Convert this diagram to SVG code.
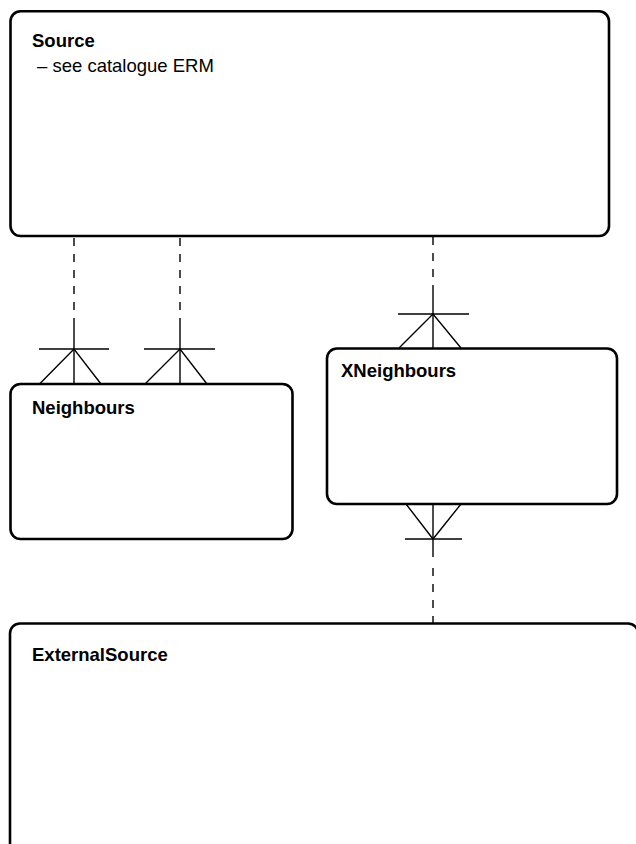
<svg xmlns="http://www.w3.org/2000/svg" width="636" height="844" viewBox="0 0 636 844">
<style>
.box{fill:#fff;stroke:#000;stroke-width:2.6}
.t{font-family:"Liberation Sans",Arial,sans-serif;font-size:18.5px;fill:#000}
.b{font-weight:bold}
.ln{stroke:#000;stroke-width:1.4;fill:none}
.dash{stroke-dasharray:8 8}
</style>
<rect width="636" height="844" fill="#fff"/>
<g id="connectors">
  <!-- Source - Neighbours 1 -->
  <line class="ln dash" x1="74" y1="238" x2="74" y2="320"/>
  <line class="ln" x1="74" y1="320" x2="74" y2="384"/>
  <line class="ln" x1="39" y1="349" x2="109" y2="349"/>
  <polyline class="ln" points="39.5,384 74,349 101,384"/>
  <!-- Source - Neighbours 2 -->
  <line class="ln dash" x1="180" y1="238" x2="180" y2="320"/>
  <line class="ln" x1="180" y1="320" x2="180" y2="384"/>
  <line class="ln" x1="144" y1="349" x2="215" y2="349"/>
  <polyline class="ln" points="145,384 180,349 207,384"/>
  <!-- Source - XNeighbours -->
  <line class="ln dash" x1="433" y1="237" x2="433" y2="286"/>
  <line class="ln" x1="433" y1="286" x2="433" y2="348"/>
  <line class="ln" x1="398" y1="314" x2="469" y2="314"/>
  <polyline class="ln" points="399,348 433,314 461,348"/>
  <!-- XNeighbours - ExternalSource -->
  <line class="ln" x1="433" y1="504" x2="433" y2="557"/>
  <line class="ln dash" x1="433" y1="568" x2="433" y2="623"/>
  <line class="ln" x1="405" y1="539" x2="462" y2="539"/>
  <polyline class="ln" points="406,504 433,539 461,504"/>
</g>
<g id="Source">
  <rect class="box" x="10.5" y="11.3" width="598.5" height="224.7" rx="10"/>
  <text class="t b" x="32" y="47">Source</text>
  <text class="t" x="37" y="72">– see catalogue ERM</text>
</g>
<g id="Neighbours">
  <rect class="box" x="10.5" y="384" width="282" height="155" rx="10"/>
  <text class="t b" x="32" y="414">Neighbours</text>
</g>
<g id="XNeighbours">
  <rect class="box" x="327" y="348.5" width="290" height="155.5" rx="10"/>
  <text class="t b" x="341" y="377">XNeighbours</text>
</g>
<g id="ExternalSource">
  <rect class="box" x="10" y="623.5" width="628" height="260" rx="10"/>
  <text class="t b" x="32" y="661">ExternalSource</text>
</g>
</svg>
